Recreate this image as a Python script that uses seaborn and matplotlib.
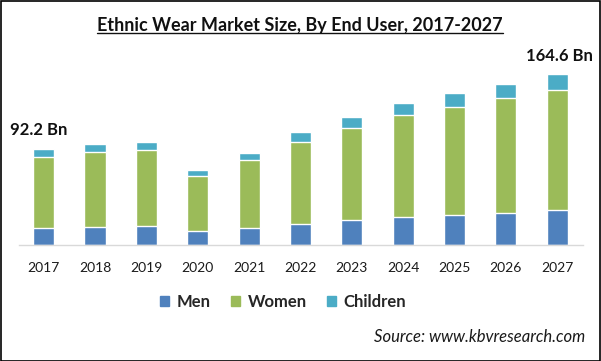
import matplotlib
matplotlib.use("Agg")
import matplotlib.pyplot as plt
import matplotlib.patches as mpatches
from matplotlib.lines import Line2D
import numpy as np
import seaborn as sns

# 数据：按最终用户划分的民族服装市场规模（十亿美元）
years = ["2017", "2018", "2019", "2020", "2021", "2022", "2023", "2024", "2025", "2026", "2027"]
men = [16.3, 17.3, 18.2, 13.4, 16.3, 20.2, 24.0, 26.9, 28.8, 30.7, 33.5]
women = [68.5, 72.0, 73.0, 52.8, 65.3, 78.8, 88.4, 98.0, 103.7, 110.4, 115.8]
children = [7.4, 7.7, 7.7, 5.8, 6.7, 9.6, 10.6, 11.5, 13.4, 13.4, 15.3]
series_names = ["Men", "Women", "Children"]
series_colors = ["#4F81BD", "#9BBB59", "#4BACC6"]
first_label = "92.2 Bn"
last_label = "164.6 Bn"

sns.set_style("white")
plt.rcParams['font.family'] = ['Lato', 'DejaVu Sans']

fig = plt.figure(figsize=(6.01, 3.61), dpi=100)
ax = fig.add_axes([19 / 601, 116 / 361, 564 / 601, 185 / 361])

men_arr = np.array(men)
women_top = men_arr + np.array(women)
total = women_top + np.array(children)

# 堆叠柱：先画总高，再往下覆盖
sns.barplot(x=years, y=total, color=series_colors[2], width=0.41, saturation=1, ax=ax)
sns.barplot(x=years, y=women_top, color=series_colors[1], width=0.41, saturation=1, ax=ax)
sns.barplot(x=years, y=men_arr, color=series_colors[0], width=0.41, saturation=1, ax=ax)

ax.set_xlim(-0.48, 10.5)
ax.set_ylim(0, 177.7)
ax.set_xlabel("")
ax.set_ylabel("")
ax.set_yticks([])
ax.tick_params(axis="x", length=0, pad=12, labelsize=10, labelcolor="#1a1a1a")
for s in ["top", "right", "left"]:
    ax.spines[s].set_visible(False)
ax.spines["bottom"].set_color("#D9D9D9")
ax.spines["bottom"].set_linewidth(1)

ax.text(-0.1, total[0] + 18, first_label, ha="center", va="center",
        fontsize=12, fontweight="bold", color="#111111")
ax.text(10.05, total[-1] + 17, last_label, ha="center", va="center",
        fontsize=12, fontweight="bold", color="#111111")

handles = [mpatches.Patch(color=c, label=n) for n, c in zip(series_names, series_colors)]
fig.legend(handles=handles, loc="center", bbox_to_anchor=(283 / 601, 1 - 302 / 361),
           ncol=3, frameon=False, prop={"weight": "bold", "size": 12},
           handlelength=0.55, handleheight=0.55, handletextpad=0.45, columnspacing=1.2)

title = fig.text(300 / 601, 1 - 25 / 361, "Ethnic Wear Market Size, By End User, 2017-2027",
                 ha="center", va="center", fontsize=13, fontweight="bold", color="#111111")
fig.text(585 / 601, 1 - 337 / 361, "Source: www.kbvresearch.com", ha="right", va="center",
         fontsize=12, style="italic", color="#1a1a1a")

# 标题下划线
fig.canvas.draw()
bb = title.get_window_extent().transformed(fig.transFigure.inverted())
fig.add_artist(Line2D([bb.x0, bb.x1], [bb.y0 + 0.002, bb.y0 + 0.002], transform=fig.transFigure,
                      color="#111111", linewidth=1))

# 外边框
fig.add_artist(mpatches.Rectangle((0.001, 0.001), 0.997, 0.996, transform=fig.transFigure,
                                  fill=False, edgecolor="black", linewidth=1.2))

fig.savefig("out.png", dpi=100)
